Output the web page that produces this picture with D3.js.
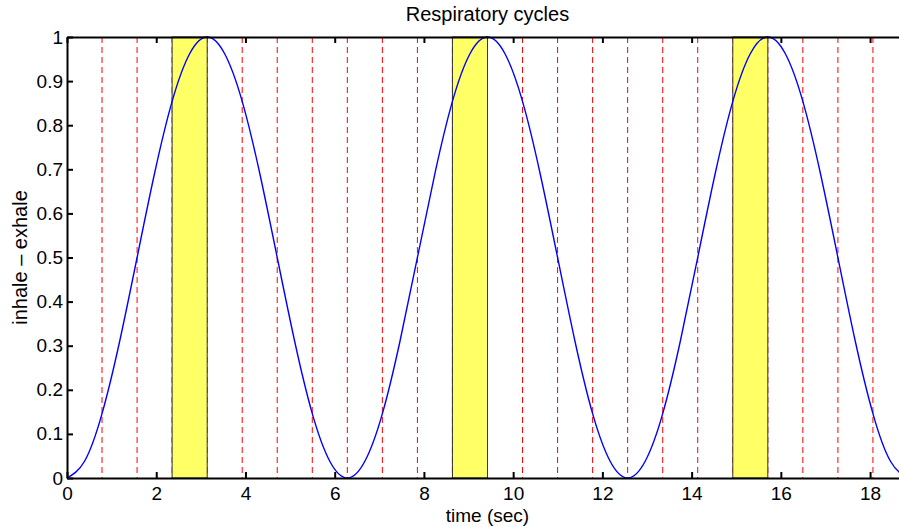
<!DOCTYPE html>
<html>
<head>
<meta charset="utf-8">
<script src="https://cdn.jsdelivr.net/npm/d3@7"></script>
<style>
  body { margin: 0; background: #fff; }
  svg { display: block; font-family: "Liberation Sans", Arial, sans-serif; }
</style>
</head>
<body>
<div id="chart"></div>
<script>
// sampled breathing signal (time in sec, level 0..1)
const times = [
  0, 0.393, 0.785, 1.178, 1.571, 1.963, 2.356, 2.749, 3.142, 3.534, 3.927, 4.320, 4.712, 5.105, 5.498, 5.890,
  6.283, 6.676, 7.069, 7.461, 7.854, 8.247, 8.639, 9.032, 9.425, 9.817, 10.210, 10.603, 10.996, 11.388, 11.781, 12.174,
  12.566, 12.959, 13.352, 13.744, 14.137, 14.530, 14.923, 15.315, 15.708, 16.101, 16.493, 16.886, 17.279, 17.671, 18.064, 18.457,
  18.850
];
const levels = [
  0, 0.038, 0.146, 0.309, 0.5, 0.691, 0.854, 0.962, 1, 0.962, 0.854, 0.691, 0.5, 0.309, 0.146, 0.038,
  0, 0.038, 0.146, 0.309, 0.5, 0.691, 0.854, 0.962, 1, 0.962, 0.854, 0.691, 0.5, 0.309, 0.146, 0.038,
  0, 0.038, 0.146, 0.309, 0.5, 0.691, 0.854, 0.962, 1, 0.962, 0.854, 0.691, 0.5, 0.309, 0.146, 0.038,
  0
];
// red dashed markers
const markers = [
  0.785, 1.571, 2.356, 3.142, 3.927, 4.712, 5.498, 6.283, 7.069, 7.854, 8.639, 9.425,
  10.210, 10.996, 11.781, 12.566, 13.352, 14.137, 14.923, 15.708, 16.493, 17.279, 18.064
];
// highlighted windows
const windowStart = [2.356, 8.639, 14.923];
const windowEnd = [3.142, 9.425, 15.708];
const xTicks = [0, 2, 4, 6, 8, 10, 12, 14, 16, 18];
const yTicks = [0, 0.1, 0.2, 0.3, 0.4, 0.5, 0.6, 0.7, 0.8, 0.9, 1];

const W = 899, H = 527;
const margin = { top: 37, right: -9, bottom: 49, left: 67 };
const width = W - margin.left - margin.right;
const height = H - margin.top - margin.bottom;
const fontSize = "20px";
const tickFont = "19px";

const svgRoot = d3.select("#chart").append("svg")
  .attr("width", W)
  .attr("height", H);

const svg = svgRoot.append("g")
  .attr("transform", `translate(${margin.left},${margin.top})`);

const x = d3.scaleLinear().domain([0, 18.85]).range([0, width]);
const y = d3.scaleLinear().domain([0, 1]).range([height, 0]);

// dashed markers
svg.selectAll(".marker")
  .data(markers)
  .enter()
  .append("line")
  .attr("x1", d => x(d)).attr("x2", d => x(d))
  .attr("y1", 0).attr("y2", height)
  .attr("stroke", "#ff0000")
  .attr("stroke-width", 1)
  .attr("stroke-dasharray", "6,4");

// yellow windows
svg.selectAll(".win")
  .data(windowStart)
  .enter()
  .append("rect")
  .attr("x", d => x(d))
  .attr("width", (d, i) => x(windowEnd[i]) - x(d))
  .attr("y", 0)
  .attr("height", height)
  .attr("fill", "#ffff66")
  .attr("stroke", "#333")
  .attr("stroke-width", 1);

// signal
const line = d3.line()
  .x(i => x(times[i]))
  .y(i => y(levels[i]))
  .curve(d3.curveNatural);

svg.append("path")
  .datum(d3.range(times.length))
  .attr("fill", "none")
  .attr("stroke", "#0000ff")
  .attr("stroke-width", 1.4)
  .attr("d", line);

// axes (ticks inward, matlab style)
const fmt = d => d3.format("")(+d.toFixed(1));
const xAxis = svg.append("g")
  .attr("transform", `translate(0,${height})`)
  .call(d3.axisBottom(x).tickValues(xTicks).tickSizeInner(-6).tickSizeOuter(0).tickPadding(9));
const xTop = svg.append("g")
  .call(d3.axisTop(x).tickValues(xTicks).tickSizeInner(-6).tickSizeOuter(0).tickFormat(""));
const yAxis = svg.append("g")
  .call(d3.axisLeft(y).tickValues(yTicks).tickSizeInner(-6).tickSizeOuter(0).tickPadding(4).tickFormat(fmt));

[xAxis, xTop, yAxis].forEach(g => {
  g.select(".domain").attr("stroke", "#000").attr("stroke-width", 2);
  g.selectAll(".tick line").attr("stroke", "#000").attr("stroke-width", 2);
  g.selectAll(".tick text").attr("fill", "#000").style("font-size", tickFont)
    .style("font-family", "'Liberation Sans', Arial, sans-serif");
});

// texts
svgRoot.append("text")
  .attr("x", margin.left + x(18.85) / 2)
  .attr("y", 21)
  .attr("text-anchor", "middle")
  .style("font-size", fontSize)
  .text("Respiratory cycles");

svgRoot.append("text")
  .attr("x", margin.left + x(18.85) / 2)
  .attr("y", 522)
  .attr("text-anchor", "middle")
  .style("font-size", "19px")
  .text("time (sec)");

svgRoot.append("text")
  .attr("transform", `translate(27,${margin.top + height / 2}) rotate(-90)`)
  .attr("text-anchor", "middle")
  .style("font-size", fontSize)
  .text("inhale – exhale");
</script>
</body>
</html>
